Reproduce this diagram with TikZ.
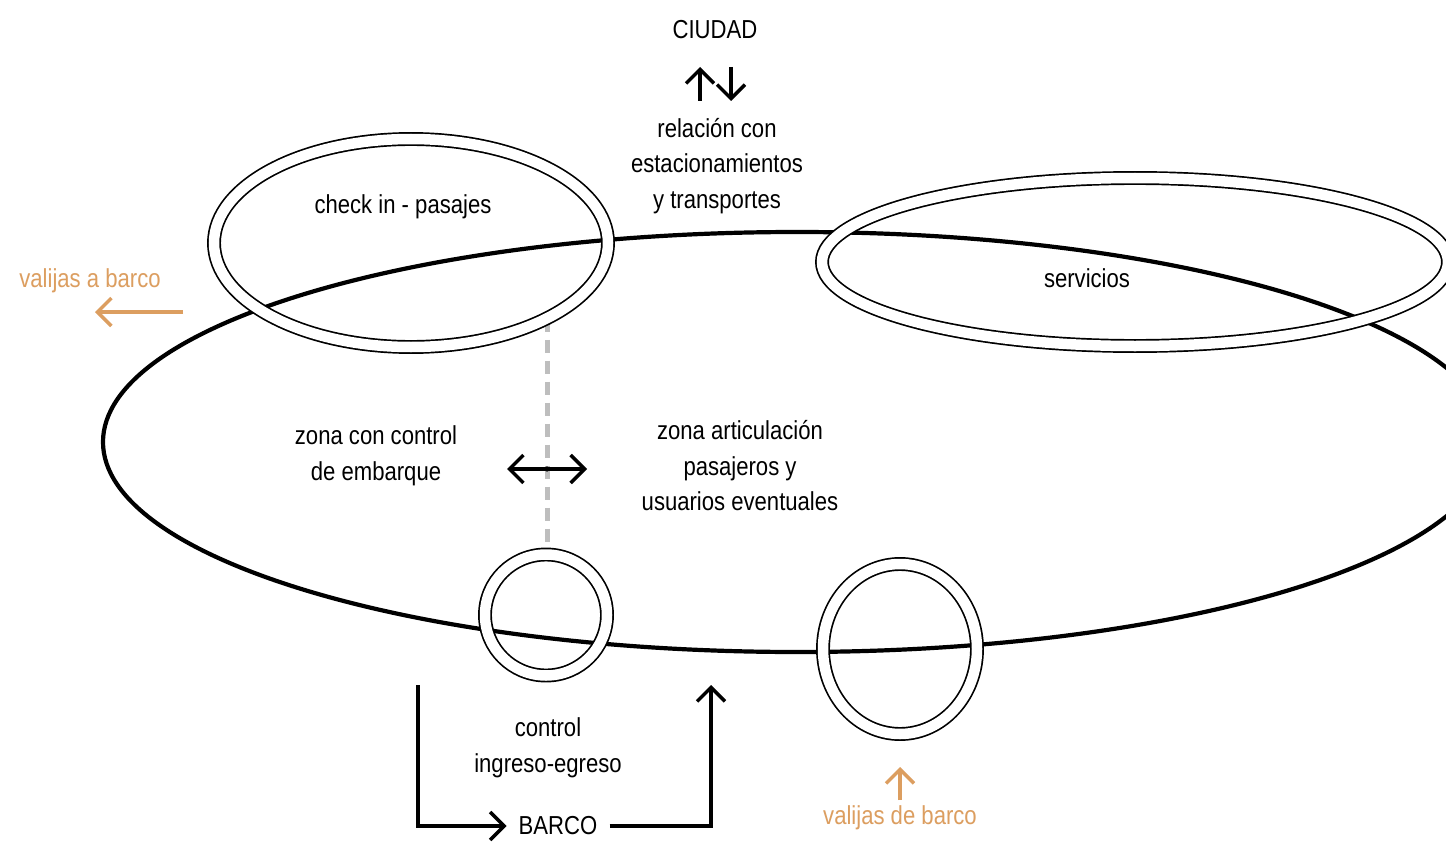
\documentclass[tikz,border=0pt]{standalone}
\usepackage{fontspec}
\setmainfont{Liberation Sans}[FakeStretch=0.85]
\usetikzlibrary{arrows.meta,shapes.geometric}
\definecolor{valija}{RGB}{220,158,96}
\definecolor{sepgray}{RGB}{190,190,190}
\pgfdeclarelayer{bg}
\pgfsetlayers{bg,main}

\begin{document}
\begin{tikzpicture}[x=1pt,y=-1pt,
  lbl/.style={font=\fontsize{26}{35.5}\selectfont, align=center, inner sep=0pt},
  baglbl/.style={lbl, text=valija},
  zone/.style={ellipse, draw=black, line width=4.2pt, inner sep=0pt},
  ring/.style={ellipse, draw=black, line width=1.7pt, double=white,
               double distance=10.5pt, inner sep=0pt},
  flow/.style={line width=3.5pt, -{Straight Barb[length=14pt,width=28pt]}},
  bagflow/.style={flow, draw=valija},
  sepline/.style={draw=sepgray, line width=5pt, dash pattern=on 13pt off 8pt}]

\begin{pgfonlayer}{bg}
  \fill[white] (0,0) rectangle (1446,848);
\end{pgfonlayer}
\useasboundingbox (0,0) rectangle (1446,848);
\clip (0,0) rectangle (1446,848);

% main zone
\node[zone, minimum width=1388pt, minimum height=420pt] (zona) at (797,442) {};

% rings
\node[ring, minimum width=394pt, minimum height=208pt] (chk) at (411,243) {};
\node[ring, minimum width=626pt, minimum height=168pt] (srv) at (1135,262) {};
\node[ring, minimum width=122pt, minimum height=121pt] (ctl) at (546,615) {};
\node[ring, minimum width=154pt, minimum height=170pt] (bag) at (900,649) {};

% separation between the two zones
\begin{pgfonlayer}{bg}
  \draw[sepline] (chk.-29.3) -- (chk.-29.3 |- ctl.north);
\end{pgfonlayer}

% texts
\node[lbl] (ciudad) at (715,29.5) {CIUDAD};
\node[lbl] (rel) at (717,166) {relación con\\estacionamientos\\y transportes};
\node[lbl] (chktxt) at (403,207) {check in - pasajes};
\node[lbl] (srvtxt) at (1087,278) {servicios};
\node[lbl] (zcc) at (376,456) {zona con control\\de embarque};
\node[lbl] (zart) at (740,466) {zona articulación\\pasajeros y\\usuarios eventuales};
\node[lbl] (ctltxt) at (548,748) {control\\ingreso-egreso};
\node[lbl, inner xsep=12pt] (barco) at (558,826) {BARCO};
\node[baglbl] (vab) at (90,281) {valijas a barco};
\node[baglbl] (vdb) at (900,818) {valijas de barco};

% city exchange arrows
\coordinate (up0) at (700,101);
\coordinate (up1) at (700,67);
\coordinate (dn0) at (731,67);
\coordinate (dn1) at (731,101);
\draw[flow] (up0) -- (up1);
\draw[flow] (dn0) -- (dn1);

% two-way passage between zones
\coordinate (pl) at (507,469);
\coordinate (pr) at (587,469);
\draw[line width=3.5pt, {Straight Barb[length=14pt,width=28pt]}-{Straight Barb[length=14pt,width=28pt]}] (pl) -- (pr);
\fill (547,469) circle (2.6pt);

% ship loop
\coordinate (bin) at (418,685);
\coordinate (bout) at (711,685);
\draw[flow] (bin) |- (barco.west);
\draw[flow] (barco.east) -| (bout);

% luggage flows
\coordinate (vab0) at (183,312);
\coordinate (vab1) at (95,312);
\draw[bagflow] (vab0) -- (vab1);
\coordinate (vdb0) at (900,800);
\coordinate (vdb1) at (900,767);
\draw[bagflow] (vdb0) -- (vdb1);
\end{tikzpicture}
\end{document}
